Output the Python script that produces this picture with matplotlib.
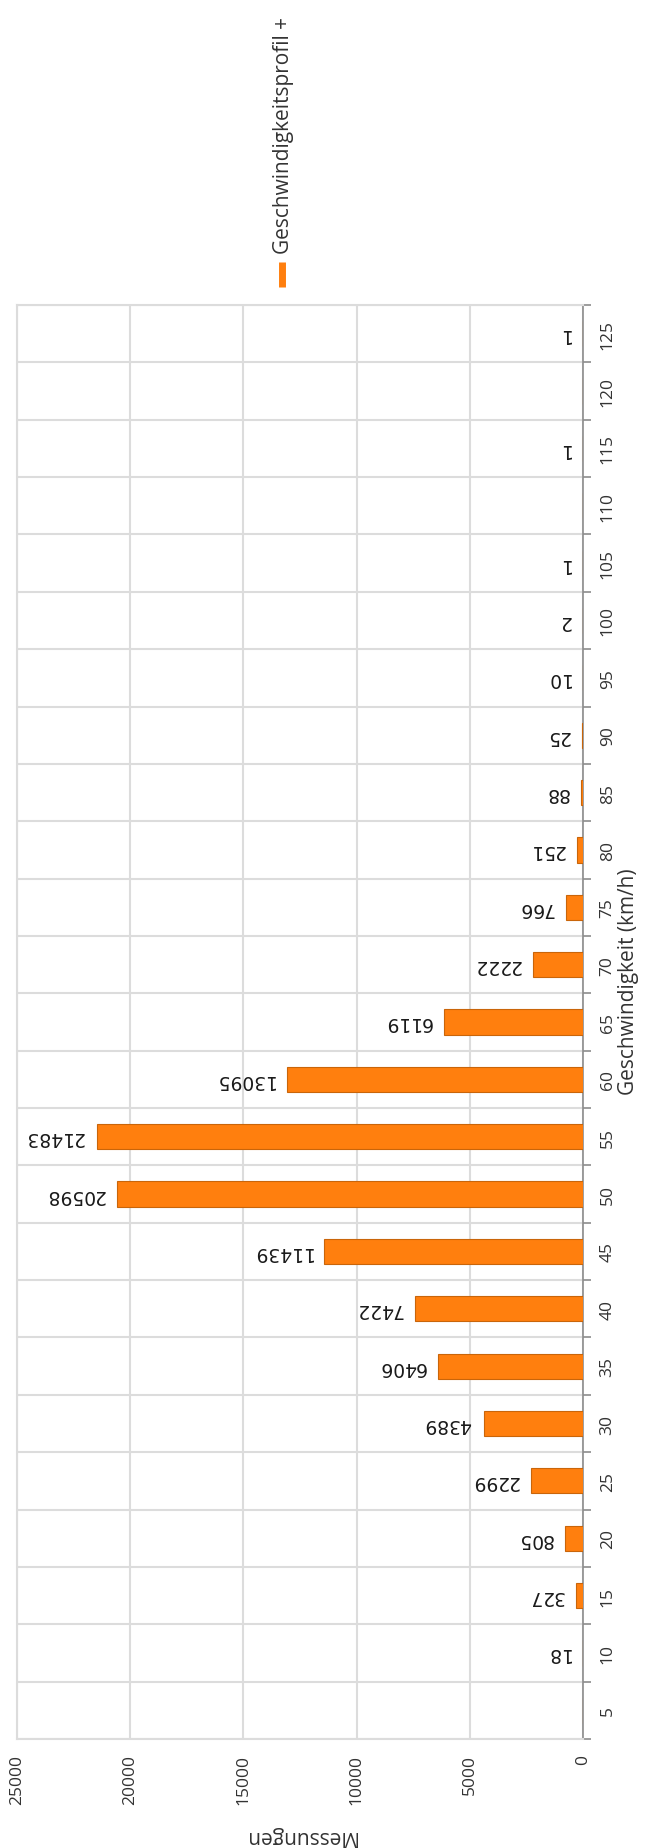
import numpy as np
import matplotlib
matplotlib.use("Agg")
import matplotlib.pyplot as plt
from matplotlib.lines import Line2D

# speed classes (km/h) and number of measurements per class
speeds = [5, 10, 15, 20, 25, 30, 35, 40, 45, 50, 55, 60, 65,
          70, 75, 80, 85, 90, 95, 100, 105, 110, 115, 120, 125]
counts = [0, 18, 327, 805, 2299, 4389, 6406, 7422, 11439, 20598, 21483, 13095, 6119,
          2222, 766, 251, 88, 25, 10, 2, 1, 0, 1, 0, 1]
count_ticks = [0, 5000, 10000, 15000, 20000, 25000]
series_name = "Geschwindigkeitsprofil +"

bar_color = "#ff7f0e"
edge_color = "#c9650a"
grid_color = "#dcdcdc"
axis_color = "#8c8c8c"
text_color = "#333333"
font = ["Open Sans", "DejaVu Sans"]

plt.rcParams["font.family"] = font

fig = plt.figure(figsize=(6.49, 18.49), dpi=100)
W, H = 649, 1849
# plot area in pixels: left 17, right 583, top 306, bottom 1740
ax = fig.add_axes([17 / W, 1 - 1740 / H, 566 / W, 1434 / H])

pos = np.arange(len(speeds))
ax.barh(pos, counts, height=0.44, color=bar_color, edgecolor=edge_color,
        linewidth=0.8, zorder=3)

ax.set_xlim(25000, 0)
ax.set_ylim(-0.5, len(speeds) - 0.5)

# value labels, upside down like in the original
for p, c in zip(pos, counts):
    if c > 0:
        ax.annotate(str(c), xy=(c, p), xytext=(-9, 0), textcoords="offset points",
                    ha="right", va="center", rotation=180, fontsize=13.5,
                    family="DejaVu Sans", color="#1a1a1a", zorder=4)

# x axis (Messungen)
ax.set_xticks(count_ticks)
ax.set_xticklabels([str(t) for t in count_ticks], rotation=90)
ax.tick_params(axis="x", length=0, pad=11, labelsize=12.5, labelcolor=text_color)
ax.set_xlabel("Messungen", rotation=180, fontsize=15, color=text_color,
              va="center", ha="center")
ax.xaxis.set_label_coords(0.5, -0.067)

# y axis (speed) on the right side
ax.yaxis.tick_right()
ax.set_yticks(pos)
ax.set_yticklabels([str(s) for s in speeds], rotation=90, va="center")
ax.set_yticks(np.arange(-0.5, len(speeds), 1), minor=True)
ax.tick_params(axis="y", which="major", length=0, pad=12, labelsize=12.5,
               labelcolor=text_color)
ax.tick_params(axis="y", which="minor", length=6, width=1.2, color=axis_color)
ax.yaxis.set_label_position("right")
ax.set_ylabel("Geschwindigkeit (km/h)", rotation=90, fontsize=15, color=text_color,
              va="center", ha="center")
ax.yaxis.set_label_coords(1.08, 0.529)

ax.grid(axis="x", color=grid_color, linewidth=1.5, zorder=0)
ax.grid(axis="y", which="minor", color=grid_color, linewidth=1.5, zorder=0)
ax.set_axisbelow(True)

for side in ["left", "top", "bottom"]:
    ax.spines[side].set_color(grid_color)
    ax.spines[side].set_linewidth(1.5)
ax.spines["right"].set_color(axis_color)
ax.spines["right"].set_linewidth(1.2)

# legend, rotated like the rest of the chart
fig.add_artist(Line2D([282 / W, 282 / W], [1 - 288 / H, 1 - 263 / H],
                      transform=fig.transFigure, color=bar_color, linewidth=5,
                      solid_capstyle="butt"))
fig.text(284 / W, 1 - 254 / H, series_name, rotation=90, ha="center", va="bottom",
         fontsize=15, color=text_color)

fig.savefig("out.png", dpi=100)
